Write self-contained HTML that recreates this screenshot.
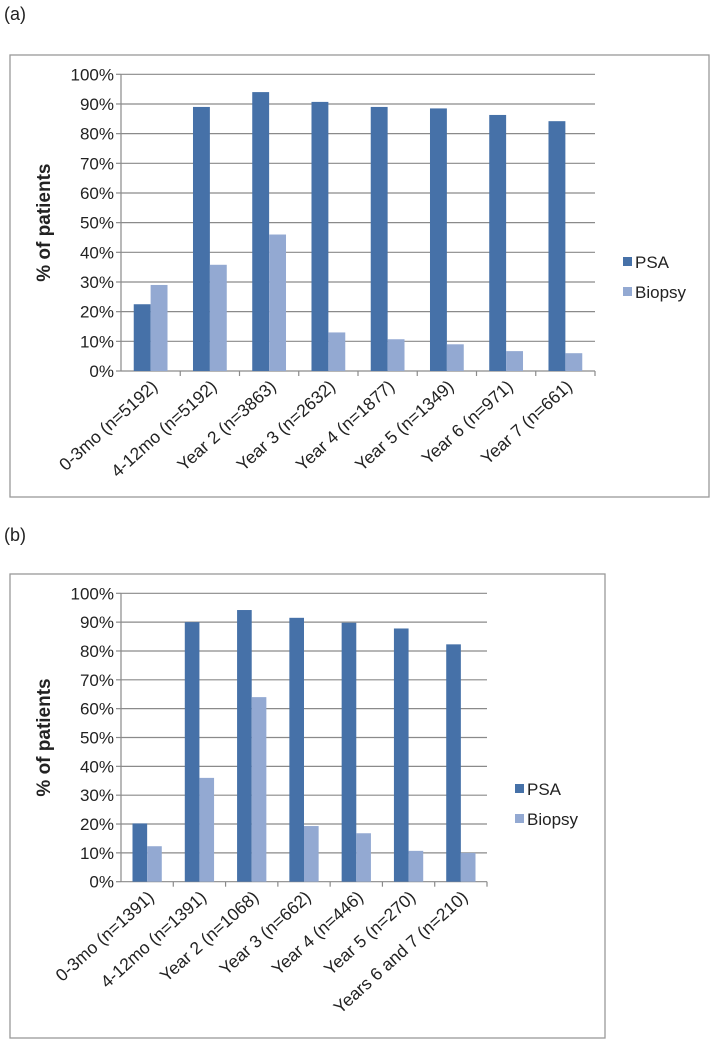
<!DOCTYPE html>
<html><head><meta charset="utf-8"><style>
body{margin:0;background:#fff;width:719px;height:1045px;overflow:hidden;font-family:"Liberation Sans",Arial,sans-serif}
svg{position:absolute;left:0;top:0}
</style></head><body>
<svg id="s" width="719" height="1045"></svg>
<script>
const catsA=["0-3mo (n=5192)","4-12mo (n=5192)","Year 2 (n=3863)","Year 3 (n=2632)","Year 4 (n=1877)","Year 5 (n=1349)","Year 6 (n=971)","Year 7 (n=661)"];
const psaA=[22.5,89,94,90.7,89,88.5,86.3,84.2];
const bioA=[29,35.8,46,13,10.7,9,6.7,6];
const catsB=["0-3mo (n=1391)","4-12mo (n=1391)","Year 2 (n=1068)","Year 3 (n=662)","Year 4 (n=446)","Year 5 (n=270)","Years 6 and 7 (n=210)"];
const psaB=[20.2,90,94.2,91.5,89.8,87.8,82.3];
const bioB=[12.3,36,64,19.3,16.8,10.7,10];
const ticks=["0%","10%","20%","30%","40%","50%","60%","70%","80%","90%","100%"];
const NS="http://www.w3.org/2000/svg",svg=document.getElementById('s');
function el(t,a,p){const e=document.createElementNS(NS,t);for(const k in a)e.setAttribute(k,a[k]);(p||svg).appendChild(e);return e;}
function chart(o){
  const g=el('g',{});
  
  
  const lab=el('text',{x:4,y:o.labY,'font-size':18,fill:'#222'},g);lab.textContent=o.label;
  
  
  const fr=el('rect',{x:o.fx,y:o.fy,width:o.fw,height:o.fh,fill:'none',stroke:'#999','stroke-width':1.3},g);
  
  
  const n=o.cats.length,cw=(o.x1-o.x0)/n;
  const y=v=>o.y0-(v/100)*(o.y0-o.y100);
  ticks.forEach((t,i)=>{const v=i*10,yy=y(v);
    if(i>0){const l=el('line',{x1:o.x0,x2:o.x1,y1:yy,y2:yy,stroke:'#8a8a8a','stroke-width':1.2},g);
      
      }
    el('line',{x1:o.x0-5,x2:o.x0,y1:yy,y2:yy,stroke:'#8a8a8a','stroke-width':1.2},g);
    const tx=el('text',{x:o.x0-7,y:yy+6,'font-size':17,'text-anchor':'end',fill:'#222'},g);tx.textContent=t;
    
    });
  el('line',{x1:o.x0,x2:o.x0,y1:o.y100,y2:o.y0,stroke:'#8a8a8a','stroke-width':1.2},g);
  el('line',{x1:o.x0,x2:o.x1,y1:o.y0,y2:o.y0,stroke:'#8a8a8a','stroke-width':1.2},g);
  const bw=cw*o.bf,off=(cw-2*bw)/2;
  o.cats.forEach((c,i)=>{
    const xs=o.x0+i*cw;
    el('line',{x1:xs+cw,x2:xs+cw,y1:o.y0,y2:o.y0+5,stroke:'#8a8a8a','stroke-width':1.2},g);
    const b1=el('rect',{x:xs+off,y:y(o.psa[i]),width:bw,height:o.y0-y(o.psa[i]),fill:'#4671a8'},g);
    
    
    const b2=el('rect',{x:xs+off+bw,y:y(o.bio[i]),width:bw,height:o.y0-y(o.bio[i]),fill:'#93a9d2'},g);
    
    
    const cx=xs+cw/2+8,cy=o.y0+17;
    const t=el('text',{x:cx,y:cy,'font-size':17.5,'text-anchor':'end',fill:'#222',transform:`rotate(-42 ${cx} ${cy})`},g);t.textContent=c;
    
    
  });
  const ay=(o.y0+o.y100)/2,at=el('text',{x:50,y:ay,'font-size':19,'font-weight':'bold','text-anchor':'middle',fill:'#222',transform:`rotate(-90 50 ${ay})`},g);
  at.textContent='% of patients';
  
  
  [['PSA','#4671a8',o.ly],['Biopsy','#93a9d2',o.ly+30]].forEach(([n,c,yy])=>{
    const le=el('g',{},g);
    
    
    el('rect',{x:o.lx,y:yy-5,width:9,height:9,fill:c},le);
    const t=el('text',{x:o.lx+12,y:yy+6,'font-size':17,fill:'#222'},le);t.textContent=n;
  });
}
chart({name:'chart-a',label:'(a)',labY:20,fx:10,fy:55,fw:699,fh:442,x0:121,x1:595,y0:371,y100:74.3,cats:catsA,psa:psaA,bio:bioA,bf:0.285,lx:623,ly:262});
chart({name:'chart-b',label:'(b)',labY:541,fx:10,fy:574,fw:595,fh:464,x0:121,x1:487,y0:881.7,y100:593.3,cats:catsB,psa:psaB,bio:bioB,bf:0.28,lx:515,ly:789});
</script>
</body></html>
